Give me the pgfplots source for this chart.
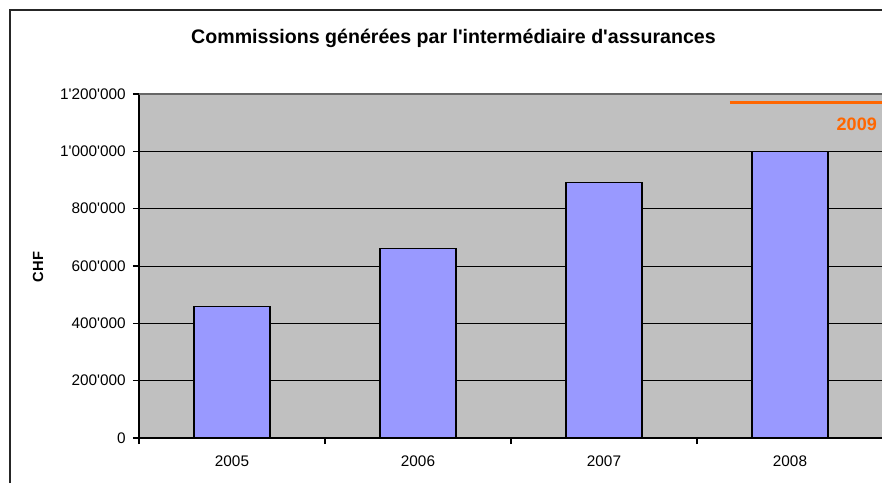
\documentclass[border=0pt]{standalone}
\usepackage{fontspec}
\setmainfont{Liberation Sans}
\usepackage{pgfplots}
\pgfplotsset{compat=1.18}
\definecolor{plotbg}{HTML}{C0C0C0}
\definecolor{barfill}{HTML}{9999FF}
\definecolor{orange09}{HTML}{FF6600}

\begin{document}
% picture in pixel units of the reference (origin bottom left)
\begin{tikzpicture}[x=0.75pt, y=0.75pt]
\useasboundingbox (0,0) rectangle (882,483);
\draw[line width=1.3pt, black!85] (10,0) -- (10,473) -- (882,473);
\coordinate (plotsw) at (139,45);

\node[font=\fontsize{14.7}{17}\selectfont\bfseries] at (453.5,445)
  {Commissions générées par l\textquotesingle intermédiaire d\textquotesingle assurances};
\node[rotate=90, font=\fontsize{11}{13}\selectfont\bfseries] at (38,216) {CHF};

\begin{axis}[
    at={(plotsw)}, anchor=south west,
    width=558pt, height=258pt, scale only axis,
    xmin=-0.5, xmax=3.5, ymin=0, ymax=1200000,
    axis background/.style={fill=plotbg},
    axis x line*=bottom, axis y line*=left,
    axis line style={black, line width=0.8pt},
    ytick={0,200000,...,1200000},
    scaled y ticks=false,
    yticklabel style={/pgf/number format/fixed, /pgf/number format/1000 sep={\textquotesingle}, xshift=-2pt},
    /pgf/number format/assume math mode=true,
    xtick={-0.5,0.5,1.5,2.5,3.5}, xticklabels={},
    extra x ticks={0,1,2,3},
    extra x tick labels={2005,2006,2007,2008},
    extra x tick style={major tick length=0pt, tick label style={yshift=-10pt}},
    tick align=outside, major tick length=4.5pt,
    tick style={black, line width=0.8pt},
    ymajorgrids, grid style={black, line width=0.6pt},
    ticklabel style={font=\fontsize{11.5}{13}\selectfont},
    clip=false,
]
\addplot[ybar, bar width=57pt, fill=barfill, draw=black, line width=0.8pt]
  coordinates {(0,460000) (1,660000) (2,890000) (3,1000000)};
\draw[gray!80!black, line width=0.8pt] (rel axis cs:0,1) -- (rel axis cs:1,1);
\addplot[sharp plot, no marks, orange09, line width=2.8pt]
  coordinates {(2.677,1170000) (3.5,1170000)};
\node[anchor=east, text=orange09, font=\fontsize{13.5}{15}\selectfont\bfseries, inner sep=0pt]
  at (axis cs:3.468,1095000) {2009};
\end{axis}
\end{tikzpicture}
\end{document}
